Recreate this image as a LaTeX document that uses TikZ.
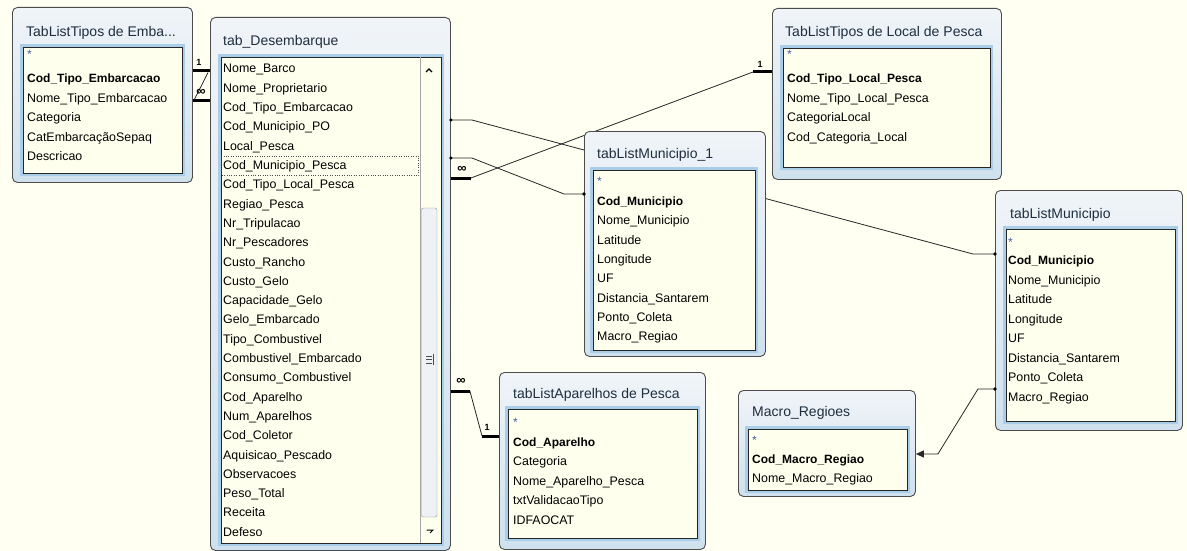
\documentclass[tikz,border=0pt]{standalone}
\usepackage{fontspec}
\setmainfont{Liberation Sans}
\usepackage{tikz}
\usetikzlibrary{arrows.meta,calc,backgrounds}
\usepackage{xcolor}

\definecolor{canvas}{HTML}{FFFFF2}
\definecolor{listbg}{HTML}{FFFFEE}
\definecolor{winTop}{HTML}{F0F4F8}
\definecolor{winBot}{HTML}{CFE1EE}
\definecolor{frameblue}{HTML}{AACDE8}
\definecolor{ttlcol}{HTML}{1E2E3E}
\definecolor{starcol}{HTML}{4A5AA8}
\definecolor{thumbcol}{HTML}{EEF2F5}

\begin{document}
\begin{tikzpicture}[
    x=1pt, y=-1pt,
    win/.style={anchor=north west, inner sep=0pt, draw=black!70, line width=0.9pt, rounded corners=5pt, top color=winTop, bottom color=winBot},
    listbox/.style={anchor=north west, inner sep=0pt, draw=black!85, line width=0.8pt, fill=listbg, preaction={draw=frameblue, line width=6pt}},
    ttl/.style={anchor=west, inner sep=0pt, font=\fontsize{14}{16}\selectfont, text=ttlcol},
    fld/.style={anchor=west, inner sep=0pt, font=\fontsize{12.4}{14}\selectfont, text height=9pt, text depth=3pt},
    keyfld/.style={fld, font=\fontsize{12}{14}\selectfont\bfseries},
    star/.style={anchor=west, inner sep=0pt, font=\fontsize{12}{12}\selectfont, text=starcol},
    rel/.style={draw=black!85, line width=0.8pt},
    relend/.style={draw=black, line width=3pt},
    card/.style={inner sep=0pt, font=\fontsize{9}{9}\selectfont\bfseries},
    many/.style={inner sep=0pt, font=\fontsize{13}{13}\selectfont\bfseries}
]

\useasboundingbox (0,0) rectangle (1187,551);

% === TABLE WINDOWS ===
\node[win, minimum width=180, minimum height=175] (emba) at (12,7) {};
\node[listbox, minimum width=159, minimum height=126] (embaList) at (23,47) {};
\node[ttl] (embaTitle) at (26,33) {TabListTipos de Emba...};

\node[win, minimum width=240, minimum height=533] (des) at (210,17) {};
\node[listbox, minimum width=220, minimum height=486] (desList) at (221,57) {};
\node[ttl] (desTitle) at (223,42) {tab\_Desembarque};

\node[win, minimum width=229, minimum height=171] (loc) at (772,8) {};
\node[listbox, minimum width=207, minimum height=119] (locList) at (783,48) {};
\node[ttl] (locTitle) at (785,33) {TabListTipos de Local de Pesca};

\node[win, minimum width=181, minimum height=225] (mun1) at (584,131) {};
\node[listbox, minimum width=162, minimum height=180] (mun1List) at (593,170) {};
\node[ttl] (mun1Title) at (597,155) {tabListMunicipio\_1};

\node[win, minimum width=187, minimum height=240] (mun) at (995,190) {};
\node[listbox, minimum width=169, minimum height=192] (munList) at (1006,229) {};
\node[ttl] (munTitle) at (1010,215) {tabListMunicipio};

\node[win, minimum width=206, minimum height=177] (apa) at (499,372) {};
\node[listbox, minimum width=189, minimum height=129] (apaList) at (508,409) {};
\node[ttl] (apaTitle) at (513,395) {tabListAparelhos de Pesca};

\node[win, minimum width=177, minimum height=106] (mac) at (738,390) {};
\node[listbox, minimum width=159, minimum height=61] (macList) at (748,429) {};
\node[ttl] (macTitle) at (752,413) {Macro\_Regioes};

% === FIELDS ===
\node[star] (embaStar) at (27,54) {*};
\node[keyfld] (embaKey) at (27,80) {Cod\_Tipo\_Embarcacao};
\foreach \f [count=\i] in {Nome\_Tipo\_Embarcacao, Categoria, CatEmbarcaçãoSepaq, Descricao}
    \node[fld] (emba-\i) at (27,80+19.4*\i) {\f};

\foreach \f [count=\i from 0] in {Nome\_Barco, Nome\_Proprietario, Cod\_Tipo\_Embarcacao, Cod\_Municipio\_PO, Local\_Pesca, Cod\_Municipio\_Pesca, Cod\_Tipo\_Local\_Pesca, Regiao\_Pesca, Nr\_Tripulacao, Nr\_Pescadores, Custo\_Rancho, Custo\_Gelo, Capacidade\_Gelo, Gelo\_Embarcado, Tipo\_Combustivel, Combustivel\_Embarcado, Consumo\_Combustivel, Cod\_Aparelho, Num\_Aparelhos, Cod\_Coletor, Aquisicao\_Pescado, Observacoes, Peso\_Total, Receita, Defeso}
    \node[fld] (des-\i) at (223,70+19.3*\i) {\f};

\node[star] (locStar) at (787,54) {*};
\node[keyfld] (locKey) at (787,80) {Cod\_Tipo\_Local\_Pesca};
\foreach \f [count=\i] in {Nome\_Tipo\_Local\_Pesca, CategoriaLocal, Cod\_Categoria\_Local}
    \node[fld] (loc-\i) at (787,80+19.4*\i) {\f};

\node[star] (mun1Star) at (597,181) {*};
\node[keyfld] (mun1Key) at (597,202.5) {Cod\_Municipio};
\foreach \f [count=\i] in {Nome\_Municipio, Latitude, Longitude, UF, Distancia\_Santarem, Ponto\_Coleta, Macro\_Regiao}
    \node[fld] (mun1-\i) at (597,202.5+19.3*\i) {\f};

\node[star] (munStar) at (1008,242) {*};
\node[keyfld] (munKey) at (1008,261.5) {Cod\_Municipio};
\foreach \f [count=\i] in {Nome\_Municipio, Latitude, Longitude, UF, Distancia\_Santarem, Ponto\_Coleta, Macro\_Regiao}
    \node[fld] (mun-\i) at (1008,261.5+19.5*\i) {\f};

\node[star] (apaStar) at (513,422) {*};
\node[keyfld] (apaKey) at (513,443) {Cod\_Aparelho};
\foreach \f [count=\i] in {Categoria, Nome\_Aparelho\_Pesca, txtValidacaoTipo, IDFAOCAT}
    \node[fld] (apa-\i) at (513,443+19.5*\i) {\f};

\node[star] (macStar) at (752,440) {*};
\node[keyfld] (macKey) at (752,460) {Cod\_Macro\_Regiao};
\node[fld] (mac-1) at (752,479) {Nome\_Macro\_Regiao};

% selected row and scroll bar
\draw[dotted, black!70] (221.5,156) rectangle (418.5,175);
\draw[black!35] (420,57.5) -- (420,542.5);
\draw[line width=1.1pt] (426,72) -- (429,69) -- (432,72);
\draw[draw=black!45, fill=thumbcol, rounded corners=2pt] (421.5,208) rectangle (437,517);
\foreach \g in {356,359.5,363}
    \draw[black!70] (426,\g) -- (432,\g);
\draw[black!70] (433.5,354) -- (433.5,365);
\draw[line width=1pt] (426.5,530) -- (433,530) -- (430,533);

% === CONNECTIONS ===
\begin{pgfonlayer}{background}
\fill[canvas] (0,0) rectangle (1187,551);
% Tipos de Embarcacao -- Desembarque
\draw[relend] (emba.east |- 0,71) -- (des.west |- 0,71);
\draw[relend] (emba.east |- 0,101) -- (des.west |- 0,101);
\draw[rel] ($(des.west |- 0,71)+(-2,1.5)$) -- ($(emba.east |- 0,101)+(1.5,-1.5)$);
% Municipio PO (runs behind tabListMunicipio_1)
\draw[rel] (des.east |- 0,120) -- ++(21,0) -- ($(mun.west |- 0,254)+(-22,0)$) -- (mun.west |- 0,254);
% Municipio Pesca
\draw[rel] (des.east |- 0,158) -- ++(21,0) -- ($(mun1.west |- 0,194)+(-20,0)$) -- (mun1.west |- 0,194);
% Tipo Local Pesca
\draw[relend] (des.east |- 0,178) -- ++(20,0) coordinate (locA);
\draw[relend] (loc.west |- 0,72) -- ++(-19,0) coordinate (locB);
\draw[rel] (locA) -- (locB);
% Aparelho
\draw[relend] (des.east |- 0,391) -- ++(19,0) coordinate (apaA);
\draw[relend] (apa.west |- 0,436) -- ++(-17,0) coordinate (apaB);
\draw[rel] (apaA) -- (apaB);
% Macro regiao
\draw[rel, -{Triangle[length=8pt,width=7pt]}] (mun.west |- 0,389) -- ++(-17,0) -- ($(mac.east |- 0,454)+(22,0)$) -- (mac.east |- 0,454);
\end{pgfonlayer}

% joints
\fill (des.east |- 0,120) circle (1.8pt);
\fill (des.east |- 0,158) circle (1.8pt);
\fill (mun.west |- 0,254) circle (1.8pt);
\fill (mun1.west |- 0,194) circle (1.8pt);
\fill (mun.west |- 0,389) circle (1.8pt);

% cardinality
\node[card] (embaOne) at (199,62) {1};
\node[many] (embaMany) at (201,92) {∞};
\node[card] (locOne) at (760,64) {1};
\node[many] (locMany) at (462,169) {∞};
\node[many] (apaMany) at (461,381) {∞};
\node[card] (apaOne) at (487,427) {1};

\end{tikzpicture}
\end{document}
